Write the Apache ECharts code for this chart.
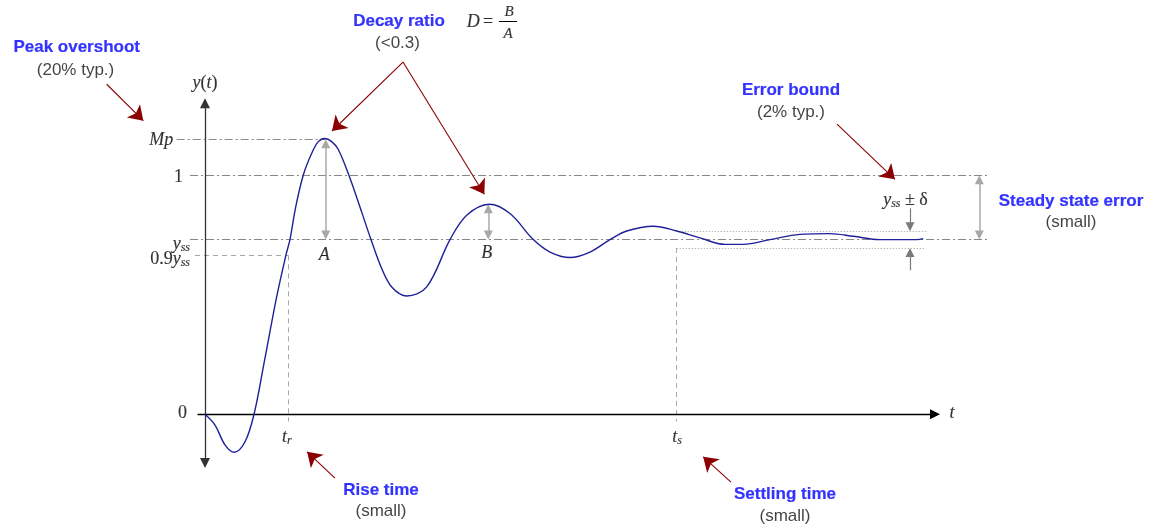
<!DOCTYPE html>
<html><head><meta charset="utf-8">
<script src="https://cdn.jsdelivr.net/npm/echarts@6/dist/echarts.min.js"></script>
<style>html,body{margin:0;padding:0;background:#fff}#c{width:1157px;height:527px}</style>
</head><body><div id="c"></div>
<script>
// ---- response curve y(t) ----
const curveT = [0, 0.2, 0.4, 0.586, 0.8, 0.98, 1.18, 1.434, 1.62, 1.70, 1.81, 1.966, 2.134, 2.266, 2.40, 2.534,
  2.666, 2.88, 3.134, 3.32, 3.534, 3.734, 4.034, 4.434, 4.9, 5.234, 5.686, 6.1, 6.566, 6.9, 7.3,
  7.7, 8.1, 8.434, 8.966, 9.434, 9.9, 10.4, 10.766, 11.3, 11.9, 12.5, 12.966, 13.5, 14.234, 14.366];
const curveY = [0, -0.045, -0.128, -0.159, -0.115, 0, 0.213, 0.492, 0.667, 0.732, 0.863, 1.001, 1.092, 1.141, 1.154, 1.141,
  1.108, 0.999, 0.846, 0.731, 0.610, 0.533, 0.495, 0.533, 0.731, 0.833, 0.879, 0.840, 0.731, 0.679, 0.656,
  0.679, 0.731, 0.767, 0.787, 0.767, 0.738, 0.711, 0.711, 0.731, 0.753, 0.756, 0.745, 0.731, 0.731, 0.735];
// ---- key levels on the y axis ----
const levelNames  = ['Mp', '1', 'yss', '0.9yss', '0'];
const levelValues = [1.151, 1, 0.731, 0.665, 0];
// ---- key times on the t axis ----
const timeNames  = ['tr', 'ts'];
const timeValues = [1.666, 9.434];
// ---- peaks A and B ----
const peakNames  = ['A', 'B'];
const peakTimes  = [2.415, 5.666];
const peakValues = [1.151, 0.879];
// ---- error band yss ± delta ----
const bandValues = [0.766, 0.696];

const MP = levelValues[0], ONE = levelValues[1], YSS = levelValues[2], Y90 = levelValues[3];
const TR = timeValues[0], TS = timeValues[1];

const SANS = '"Liberation Sans", Arial, sans-serif';
const SERIF = '"Liberation Serif", "Times New Roman", serif';
const INK = '#000';
const BLUE = '#0000ff';

const chart = echarts.init(document.getElementById('c'));
const base = {
  animation: false,
  grid: { left: 0, right: 0, top: 0, bottom: 0 },
  xAxis: { type: 'value', min: -4.1, max: 19.04, show: false },
  yAxis: { type: 'value', min: -0.4715, max: 1.7335, show: false }
};
chart.setOption(Object.assign({ series: [] }, base));

const toPx = p => chart.convertToPixel({ gridIndex: 0 }, p);
const toData = p => chart.convertFromPixel({ gridIndex: 0 }, p);
function seg(a, b) { return { coords: [a, b] }; }
// arrow whose tip touches `tip`; symbols are centred on line ends, so pull ends in by half the head
function arrow(tail, tip, size, both) {
  const p0 = toPx(tail), p1 = toPx(tip);
  const dx = p1[0] - p0[0], dy = p1[1] - p0[1];
  const L = Math.hypot(dx, dy), ux = dx / L, uy = dy / L, h = size / 2;
  const t1 = [p1[0] - ux * h, p1[1] - uy * h];
  const t0 = both ? [p0[0] + ux * h, p0[1] + uy * h] : p0;
  return { coords: [toData(t0), toData(t1)] };
}
function linesSeries(data, style, symbol, size) {
  return {
    type: 'lines', coordinateSystem: 'cartesian2d', silent: true, z: 3,
    symbol: symbol || ['none', 'none'], symbolSize: size || 0,
    lineStyle: Object.assign({ opacity: 1, width: 1, curveness: 0 }, style),
    data: data
  };
}

const SER = { fontFamily: SERIF, color: INK, textBorderColor: INK, textBorderWidth: 0.15, verticalAlign: 'middle' };
const rich = {
  bl: { fontFamily: SANS, fontWeight: 'bold', fontSize: 17, color: BLUE, textBorderColor: BLUE, textBorderWidth: 0.2 },
  nm: { fontFamily: SANS, fontSize: 17, color: '#111' },
  it: Object.assign({ fontStyle: 'italic', fontSize: 18 }, SER),
  up: Object.assign({ fontSize: 18 }, SER),
  sb: Object.assign({ fontStyle: 'italic', fontSize: 12, padding: [7, 0, 0, 0] }, SER),
  fr: Object.assign({ fontStyle: 'italic', fontSize: 15 }, SER)
};
const sub = s => '{sb|' + s.slice(1) + '}';
function txt(x, y, f, pos) {
  return { value: [x, y], label: { formatter: f, position: pos || 'inside', distance: 0 } };
}

const labels = [
  txt(-2.566, 1.537, '{bl|Peak overshoot}'),
  txt(-2.59, 1.441, '{nm|(20% typ.)}'),
  txt(3.88, 1.646, '{bl|Decay ratio}'),
  txt(3.85, 1.554, '{nm|(<0.3)}'),
  txt(5.5, 1.640, '{it|D} {up|=}'),
  txt(6.08, 1.685, '{fr|' + peakNames[1] + '}'),
  txt(6.06, 1.590, '{fr|' + peakNames[0] + '}'),
  txt(11.72, 1.357, '{bl|Error bound}'),
  txt(11.72, 1.265, '{nm|(2% typ.)}'),
  txt(17.32, 0.892, '{bl|Steady state error}'),
  txt(17.32, 0.805, '{nm|(small)}'),
  txt(3.52, -0.316, '{bl|Rise time}'),
  txt(3.52, -0.404, '{nm|(small)}'),
  txt(11.6, -0.333, '{bl|Settling time}'),
  txt(11.6, -0.426, '{nm|(small)}'),
  txt(0, 1.387, '{it|y}{up|(}{it|t}{up|)}'),
  txt(14.94, 0.005, '{it|t}'),
  txt(TR - 0.03, -0.095, '{it|t}' + sub(timeNames[0])),
  txt(TS + 0.01, -0.095, '{it|t}' + sub(timeNames[1])),
  txt(-0.634, MP - 0.003, '{it|' + levelNames[0] + '}', 'left'),
  txt(-0.44, ONE - 0.01, '{up|' + levelNames[1] + '}', 'left'),
  txt(-0.3, YSS - 0.018, '{it|y}' + sub(levelNames[2]), 'left'),
  txt(-0.3, Y90 - 0.018, '{up|0.9}{it|y}{sb|ss}', 'left'),
  txt(-0.36, 0.005, '{up|' + levelNames[4] + '}', 'left'),
  txt(peakTimes[0] - 0.03, Y90 + 0.001, '{it|' + peakNames[0] + '}'),
  txt(peakTimes[1] - 0.03, Y90 + 0.009, '{it|' + peakNames[1] + '}'),
  txt(14.01, 0.897, '{it|y}{sb|ss}{up| ± δ}')
];

const RED = '#8b0000';
const series = [
  // dash-dot reference levels
  linesSeries([
    seg([-0.566, MP], [peakTimes[0], MP]),
    seg([-0.3, ONE], [15.666, ONE]),
    seg([-0.3, YSS], [15.666, YSS])
  ], { color: '#888', type: [8, 3, 2, 3] }),
  // dashed helper lines
  linesSeries([
    seg([-0.2, Y90], [TR, Y90]),
    seg([TR, Y90], [TR, -0.03]),
    seg([TS, bandValues[1]], [TS, -0.03])
  ], { color: '#a6a6a6', type: [5, 4] }),
  // dotted error band
  linesSeries([
    seg([9.534, bandValues[0]], [14.46, bandValues[0]]),
    seg([TS, bandValues[1]], [14.4, bandValues[1]])
  ], { color: '#9a9a9a', type: [1, 2] }),
  // fraction bar
  linesSeries([seg([5.88, 1.643], [6.24, 1.643])], { color: INK, width: 1 }),
  // response curve
  {
    type: 'line', data: curveT.map((t, i) => [t, curveY[i]]), smooth: 0.35, showSymbol: false,
    silent: true, z: 5, lineStyle: { color: '#1f1f99', width: 1.4 }
  },
  // gray double arrows A, B, steady state error
  linesSeries([
    arrow([peakTimes[0], YSS], [peakTimes[0], peakValues[0]], 9, true),
    arrow([peakTimes[1], YSS], [peakTimes[1], peakValues[1]], 9, true),
    arrow([15.486, YSS], [15.486, ONE], 9, true)
  ], { color: '#a8a8a8', width: 1.5 }, ['triangle', 'triangle'], 9),
  // delta arrows
  linesSeries([
    arrow([14.1, 0.862], [14.1, bandValues[0]], 9, false),
    arrow([14.1, 0.603], [14.1, bandValues[1]], 9, false)
  ], { color: '#7a7a7a', width: 1.2 }, ['none', 'triangle'], 9),
  // red pointer arrows
  linesSeries([
    arrow([-1.966, 1.381], [-1.134, 1.208], 14, false),
    arrow([3.96, 1.474], [2.44, 1.165], 14, false),
    arrow([3.96, 1.474], [5.66, 0.896], 14, false),
    arrow([12.64, 1.214], [13.9, 0.963], 14, false),
    arrow([2.6, -0.267], [1.94, -0.137], 14, false),
    arrow([10.52, -0.284], [9.86, -0.158], 14, false)
  ], { color: RED, width: 1.1 }, ['none', 'arrow'], 14),
  // axes
  linesSeries([arrow([0, -0.225], [0, 1.322], 10, true)], { color: '#333', width: 1.3 }, ['triangle', 'triangle'], 10),
  linesSeries([arrow([-0.15, 0], [14.7, 0], 10, false)], { color: '#000', width: 1.3 }, ['none', 'triangle'], 10),
  // text
  {
    type: 'scatter', silent: true, z: 10, symbolSize: 0, itemStyle: { color: '#fff' },
    label: { show: true, position: 'inside', rich: rich, color: INK, textShadowBlur: 0 },
    data: labels
  }
];

chart.setOption(Object.assign({ series: series }, base), true);
</script></body></html>
